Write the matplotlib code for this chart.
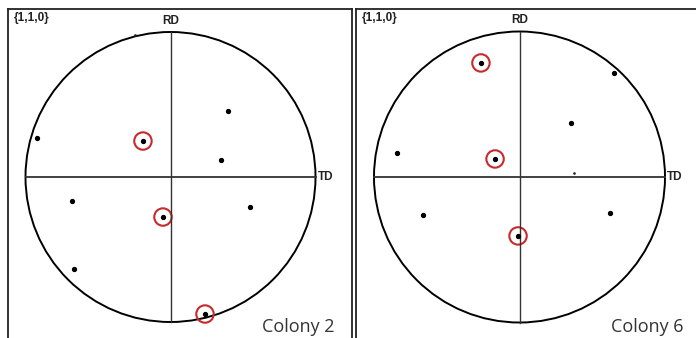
import matplotlib
matplotlib.use("Agg")
import matplotlib.pyplot as plt
from matplotlib.patches import Circle

W, H = 696, 338

# pole positions in units of the pole-figure radius (x = TD, y = RD)
colony2_x = [-0.921, -0.190, 0.397, 0.348, -0.679, -0.052, 0.548, -0.666, 0.238]
colony2_y = [0.269, 0.248, 0.455, 0.117, -0.166, -0.276, -0.207, -0.634, -0.945]
colony2_circled = [1, 5, 8]
colony2_faint_x = [-0.245]
colony2_faint_y = [0.979]

colony6_x = [-0.265, 0.649, 0.354, -0.842, -0.168, -0.663, 0.622, -0.010]
colony6_y = [0.784, 0.715, 0.371, 0.165, 0.124, -0.261, -0.247, -0.405]
colony6_circled = [0, 4, 7]
colony6_faint_x = [0.375]
colony6_faint_y = [0.027]

panel_titles = ["Colony 2", "Colony 6"]
plane_label = "{1,1,0}"


def pole_figure(fig, box, centre, radius, xs, ys, circled, faint, title):
    # box = (left, top, right) in pixels, panel runs off the bottom of the image
    left, top, right = box
    cx, cy = centre
    ax = fig.add_axes([left / W, 0, (right - left) / W, 1 - top / H])
    ax.set_xlim((left - cx) / radius, (right - cx) / radius)
    ax.set_ylim((cy - H) / radius, (cy - top) / radius)
    ax.set_xticks([])
    ax.set_yticks([])
    for s in ["top", "left", "right"]:
        ax.spines[s].set_linewidth(1.3)
        ax.spines[s].set_color("#222222")
    ax.spines["bottom"].set_visible(False)

    ax.add_patch(Circle((0, 0), 1, fill=False, lw=1.4, ec="black"))
    ax.plot([0, 0], [-1, 1], color="#333333", lw=1.0)
    ax.plot([-1, 1], [0, 0], color="#333333", lw=1.3)

    ax.plot(xs, ys, "o", ms=2.8, color="black", mec="black")
    ax.plot(faint[0], faint[1], "o", ms=1.9, color="#222222", mew=0)
    r_mark = 8.7 / radius
    for i in circled:
        ax.add_patch(Circle((xs[i], ys[i]), r_mark, fill=False, lw=1.5, ec="#c62a2c"))

    ax.text(0, 1.035, "RD", ha="center", va="bottom", fontsize=8.5,
            family="Liberation Sans", weight="bold", color="#222222")
    ax.text(1.015, 0, "TD", ha="left", va="center", fontsize=8.5,
            family="Liberation Sans", weight="bold", color="#222222")
    ax.text((left + 6 - cx) / radius, (cy - top - 3) / radius, plane_label,
            ha="left", va="top", fontsize=8.5, family="Liberation Sans",
            weight="bold", color="#222222")
    ax.text(164 / radius, (cy - 336) / radius, title,
            ha="right", va="bottom", fontsize=13, family="Open Sans",
            color="#333333")
    return ax


fig = plt.figure(figsize=(W / 100, H / 100), dpi=100)

pole_figure(fig, (8, 9, 352), (170.5, 177), 145,
            colony2_x, colony2_y, colony2_circled,
            (colony2_faint_x, colony2_faint_y), panel_titles[0])
pole_figure(fig, (356, 9, 700), (519.5, 177), 145.5,
            colony6_x, colony6_y, colony6_circled,
            (colony6_faint_x, colony6_faint_y), panel_titles[1])

fig.savefig("out.png", dpi=100)
